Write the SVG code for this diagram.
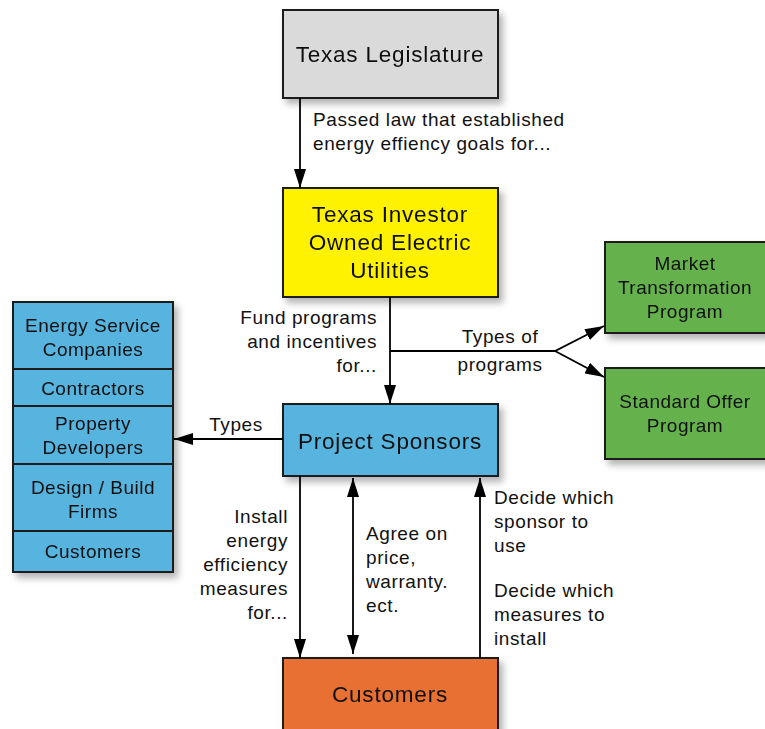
<svg xmlns="http://www.w3.org/2000/svg" width="765" height="729" viewBox="0 0 765 729">
  <defs>
    <filter id="shadow" x="-10%" y="-10%" width="130%" height="140%">
      <feDropShadow dx="4" dy="5" stdDeviation="3.5" flood-color="#000" flood-opacity="0.3"/>
    </filter>
    <marker id="arrow" markerUnits="userSpaceOnUse" markerWidth="19" markerHeight="12" refX="19" refY="6" viewBox="0 0 19 12" orient="auto-start-reverse">
      <path d="M0,0 L19,6 L0,12 Z" fill="#000"/>
    </marker>
  </defs>
  <style>
    .box { stroke: #1a1a1a; stroke-width: 2; }
    .t { font-family: "Liberation Sans", Arial, sans-serif; fill: #111; }
    .big { font-size: 22.5px; letter-spacing: 0.8px; text-anchor: middle; }
    .mid { font-size: 19px; letter-spacing: 0.5px; text-anchor: middle; }
    .lbl { font-size: 19px; letter-spacing: 0.6px; }
    .conn { stroke: #000; stroke-width: 1.8; fill: none; }
  </style>
  <rect width="765" height="729" fill="#fff"/>

  <g id="legislature" filter="url(#shadow)">
    <rect class="box" x="283" y="10" width="215" height="88" fill="#dadada"/>
    <text class="t big" x="390" y="62">Texas Legislature</text>
  </g>

  <g id="utilities" filter="url(#shadow)">
    <rect class="box" x="283" y="188" width="215" height="109" fill="#fff200"/>
    <text class="t big" x="390" y="222">Texas Investor</text>
    <text class="t big" x="390" y="250">Owned Electric</text>
    <text class="t big" x="390" y="278">Utilities</text>
  </g>

  <g id="market-transformation" filter="url(#shadow)">
    <rect class="box" x="605" y="242" width="165" height="91" fill="#65b24e"/>
    <text class="t mid" x="685" y="270">Market</text>
    <text class="t mid" x="685" y="294">Transformation</text>
    <text class="t mid" x="685" y="318">Program</text>
  </g>

  <g id="standard-offer" filter="url(#shadow)">
    <rect class="box" x="605" y="368" width="165" height="91" fill="#65b24e"/>
    <text class="t mid" x="685" y="408">Standard Offer</text>
    <text class="t mid" x="685" y="432">Program</text>
  </g>

  <g id="sponsor-types" filter="url(#shadow)">
    <rect class="box" x="13" y="302" width="160" height="67" fill="#56b4de"/>
    <rect class="box" x="13" y="369" width="160" height="37" fill="#56b4de"/>
    <rect class="box" x="13" y="406" width="160" height="58" fill="#56b4de"/>
    <rect class="box" x="13" y="464" width="160" height="67" fill="#56b4de"/>
    <rect class="box" x="13" y="531" width="160" height="41" fill="#56b4de"/>
    <text class="t mid" x="93" y="332">Energy Service</text>
    <text class="t mid" x="93" y="356">Companies</text>
    <text class="t mid" x="93" y="395">Contractors</text>
    <text class="t mid" x="93" y="430">Property</text>
    <text class="t mid" x="93" y="454">Developers</text>
    <text class="t mid" x="93" y="494">Design / Build</text>
    <text class="t mid" x="93" y="518">Firms</text>
    <text class="t mid" x="93" y="558">Customers</text>
  </g>

  <g id="project-sponsors" filter="url(#shadow)">
    <rect class="box" x="283" y="404" width="215" height="72" fill="#56b4de"/>
    <text class="t big" x="390" y="449">Project Sponsors</text>
  </g>

  <g id="customers" filter="url(#shadow)">
    <rect class="box" x="283" y="658" width="215" height="80" fill="#e86f33"/>
    <text class="t big" x="390" y="702">Customers</text>
  </g>

  <g id="connectors">
    <line class="conn" x1="300" y1="98" x2="300" y2="188" marker-end="url(#arrow)"/>
    <line class="conn" x1="390" y1="297" x2="390" y2="404" marker-end="url(#arrow)"/>
    <polyline class="conn" points="390,351 555,351 604,326" marker-end="url(#arrow)"/>
    <polyline class="conn" points="555,351 604,377" marker-end="url(#arrow)"/>
    <line class="conn" x1="283" y1="439" x2="174" y2="439" marker-end="url(#arrow)"/>
    <line class="conn" x1="300" y1="476" x2="300" y2="658" marker-end="url(#arrow)"/>
    <line class="conn" x1="353" y1="478" x2="353" y2="654" marker-start="url(#arrow)" marker-end="url(#arrow)"/>
    <line class="conn" x1="480" y1="658" x2="480" y2="478" marker-end="url(#arrow)"/>
  </g>

  <g id="labels">
    <text class="t lbl" x="313" y="126">Passed law that established</text>
    <text class="t lbl" x="313" y="150">energy effiency goals for...</text>
    <text class="t lbl" x="377" y="324" text-anchor="end">Fund programs</text>
    <text class="t lbl" x="377" y="348" text-anchor="end">and incentives</text>
    <text class="t lbl" x="377" y="372" text-anchor="end">for...</text>
    <text class="t lbl" x="500" y="343" text-anchor="middle">Types of</text>
    <text class="t lbl" x="500" y="371" text-anchor="middle">programs</text>
    <text class="t lbl" x="236" y="431" text-anchor="middle">Types</text>
    <text class="t lbl" x="288" y="523" text-anchor="end">Install</text>
    <text class="t lbl" x="288" y="547" text-anchor="end">energy</text>
    <text class="t lbl" x="288" y="571" text-anchor="end">efficiency</text>
    <text class="t lbl" x="288" y="595" text-anchor="end">measures</text>
    <text class="t lbl" x="288" y="619" text-anchor="end">for...</text>
    <text class="t lbl" x="366" y="540">Agree on</text>
    <text class="t lbl" x="366" y="564">price,</text>
    <text class="t lbl" x="366" y="588">warranty.</text>
    <text class="t lbl" x="366" y="612">ect.</text>
    <text class="t lbl" x="494" y="504">Decide which</text>
    <text class="t lbl" x="494" y="528">sponsor to</text>
    <text class="t lbl" x="494" y="552">use</text>
    <text class="t lbl" x="494" y="597">Decide which</text>
    <text class="t lbl" x="494" y="621">measures to</text>
    <text class="t lbl" x="494" y="645">install</text>
  </g>
</svg>
